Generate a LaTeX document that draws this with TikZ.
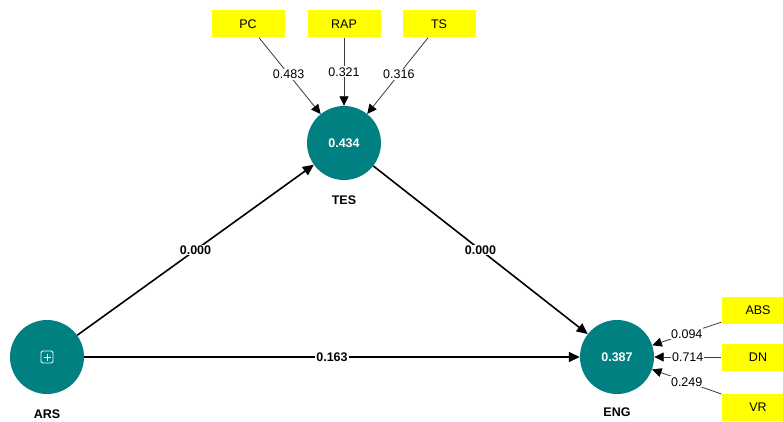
\documentclass[tikz,border=0pt]{standalone}
\usepackage{fontspec}
\setmainfont{Liberation Sans}
\usepackage{tikz}
\usetikzlibrary{arrows.meta, positioning}
\usepackage{xcolor}
\definecolor{latteal}{RGB}{0,128,128}
\definecolor{indyellow}{RGB}{255,255,0}
\definecolor{loadgray}{RGB}{60,60,60}

\begin{document}
\begin{tikzpicture}[x=1pt, y=-1pt,
    font=\fontsize{12.5}{14}\selectfont,
    latent/.style={circle, fill=latteal, minimum size=74pt, inner sep=0pt,
      text=white, font=\fontsize{12.5}{14}\selectfont\bfseries},
    latname/.style={font=\fontsize{12.5}{14}\selectfont\bfseries, inner sep=1pt},
    indbox/.style={rectangle, fill=indyellow, minimum width=73pt, minimum height=27pt, inner sep=0pt},
    pathline/.style={line width=1.6pt, -{Triangle[length=11pt,width=10pt]}},
    loadline/.style={draw=loadgray, line width=0.8pt, -{Triangle[length=9.5pt,width=9pt,black]}},
    coef/.style={fill=white, inner sep=1pt, text=black},
    pathcoef/.style={coef, font=\fontsize{12.5}{14}\selectfont\bfseries}]
  \useasboundingbox[fill=white] (0,0) rectangle (783,422);
  % Latent variables
  \node[latent] (tes) at (344,143) {0.434};
  \node[latent] (ars) at (47,357) {};
  \node[latent] (eng) at (617,357) {0.387};
  \node[latname, below=14pt of tes] (teslbl) {TES};
  \node[latname, below=14pt of ars] (arslbl) {ARS};
  \node[latname, below=12pt of eng] (englbl) {ENG};
  % Plus symbol (ARS)
  \draw[white, line width=0.8pt, rounded corners=1.5pt] (41,351) rectangle (53,363);
  \draw[white, line width=0.8pt] (43.5,357) -- (50.5,357) (47,353.5) -- (47,360.5);
  % Indicators
  \node[indbox] (pc) at (248,24) {PC};
  \node[indbox] (rap) at (344,24) {RAP};
  \node[indbox] (ts) at (439,24) {TS};
  \node[indbox] (abs) at (758,310) {ABS};
  \node[indbox] (dn) at (758,357) {DN};
  \node[indbox] (vr) at (758,407) {VR};
  % Outer loadings
  \draw[loadline] (pc) -- node[coef, pos=0.48] {0.483} (tes);
  \draw[loadline] (rap) -- node[coef, pos=0.5] {0.321} (tes);
  \draw[loadline] (ts) -- node[coef, pos=0.48] {0.316} (tes);
  \draw[loadline] (abs) -- node[coef, pos=0.5] {0.094} (eng);
  \draw[loadline] (dn) -- node[coef, pos=0.5] {0.714} (eng);
  \draw[loadline] (vr) -- node[coef, pos=0.5] {0.249} (eng);
  % Path coefficients
  \draw[pathline] (ars) -- node[pathcoef] {0.000} (tes);
  \draw[pathline] (tes) -- node[pathcoef] {0.000} (eng);
  \draw[pathline] (ars) -- node[pathcoef] {0.163} (eng);
\end{tikzpicture}
\end{document}
